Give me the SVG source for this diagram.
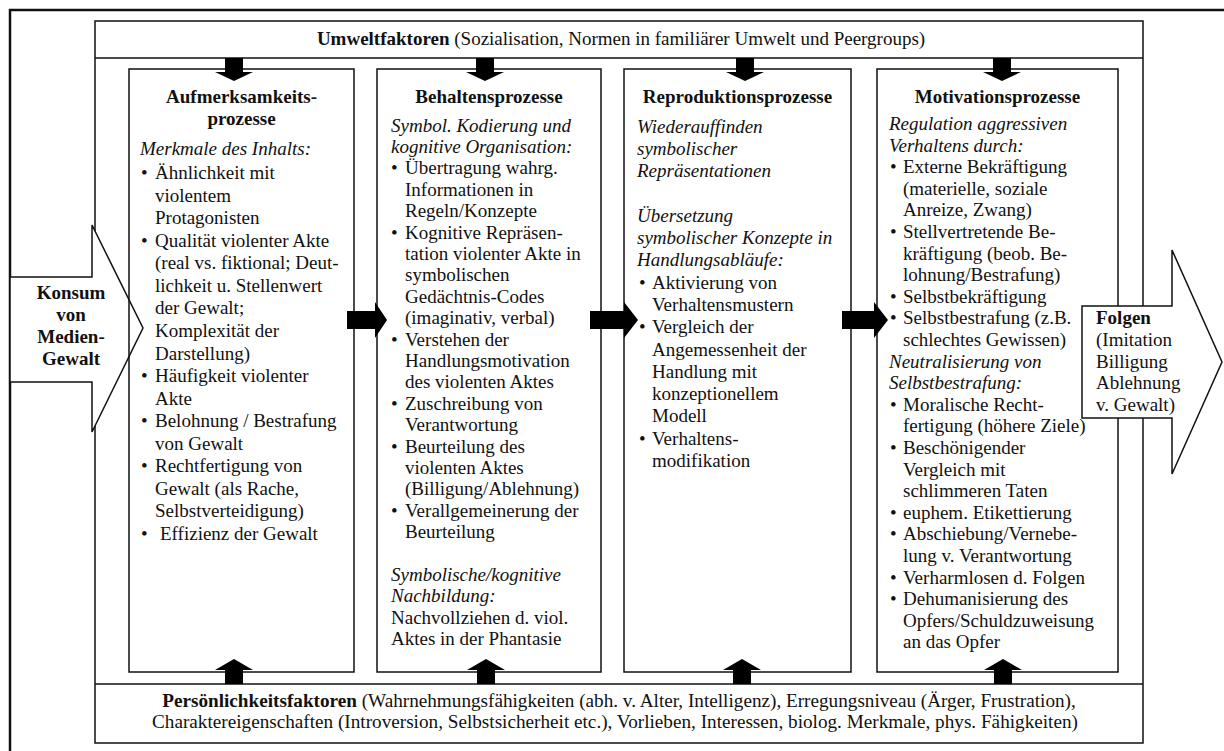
<svg xmlns="http://www.w3.org/2000/svg" width="1224" height="751" viewBox="0 0 1224 751">
<style>
.t{font-family:"Liberation Serif","Times New Roman",serif;font-size:19px;fill:#111}
.b{font-weight:bold}
.i{font-style:italic}
.c{text-anchor:middle}
.box{fill:none;stroke:#111;stroke-width:1.5}
.wbox{fill:#fff;stroke:#111;stroke-width:1.5}
.blk{fill:#000}
</style>
<rect x="0" y="0" width="1224" height="751" fill="#fff"/>
<g id="frame">
<rect x="10" y="10" width="1240" height="760" fill="none" stroke="#111" stroke-width="2.5"/>
</g>
<g id="container">
<rect class="box" x="95" y="21" width="1048" height="722"/>
<line x1="95" y1="58" x2="1143" y2="58" stroke="#111" stroke-width="1.5"/>
<line x1="95" y1="684" x2="1143" y2="684" stroke="#111" stroke-width="1.5"/>
</g>
<g id="umwelt">
<text class="t c" x="621" y="45"><tspan class="b">Umweltfaktoren</tspan> (Sozialisation, Normen in familiärer Umwelt und Peergroups)</text>
</g>
<g id="persoenlichkeit">
<text class="t c" x="619" y="707" style="font-size:19.2px"><tspan class="b">Persönlichkeitsfaktoren</tspan> (Wahrnehmungsfähigkeiten (abh. v. Alter, Intelligenz), Erregungsniveau (Ärger, Frustration),</text>
<text class="t c" x="615" y="728" style="font-size:19.2px">Charaktereigenschaften (Introversion, Selbstsicherheit etc.), Vorlieben, Interessen, biolog. Merkmale, phys. Fähigkeiten)</text>
</g>
<g id="konsum">
<polygon class="wbox" points="10,277 92,277 92,225 143,328 92,432 92,382 10,382"/>
<text class="t b c" x="71" y="299">Konsum</text>
<text class="t b c" x="71" y="321">von</text>
<text class="t b c" x="71" y="343">Medien-</text>
<text class="t b c" x="71" y="365">Gewalt</text>
</g>
<g id="aufmerksamkeit">
<rect class="box" x="129" y="69" width="225" height="603"/>
<text class="t b c" x="241.5" y="103">Aufmerksamkeits-</text>
<text class="t b c" x="241.5" y="124.5">prozesse</text>
<text class="t i" x="140" y="155">Merkmale des Inhalts:</text>
<text class="t" x="141" y="179">•</text><text class="t" x="155" y="179">Ähnlichkeit mit</text>
<text class="t" x="155" y="201.6">violentem</text>
<text class="t" x="155" y="224.1">Protagonisten</text>
<text class="t" x="141" y="246.7">•</text><text class="t" x="155" y="246.7">Qualität violenter Akte</text>
<text class="t" x="155" y="269.2">(real vs. fiktional; Deut-</text>
<text class="t" x="155" y="291.8">lichkeit u. Stellenwert</text>
<text class="t" x="155" y="314.4">der Gewalt;</text>
<text class="t" x="155" y="336.9">Komplexität der</text>
<text class="t" x="155" y="359.5">Darstellung)</text>
<text class="t" x="141" y="382">•</text><text class="t" x="155" y="382">Häufigkeit violenter</text>
<text class="t" x="155" y="404.6">Akte</text>
<text class="t" x="141" y="427.2">•</text><text class="t" x="155" y="427.2">Belohnung / Bestrafung</text>
<text class="t" x="155" y="449.7">von Gewalt</text>
<text class="t" x="141" y="472.3">•</text><text class="t" x="155" y="472.3">Rechtfertigung von</text>
<text class="t" x="155" y="494.8">Gewalt (als Rache,</text>
<text class="t" x="155" y="517.4">Selbstverteidigung)</text>
<text class="t" x="141" y="540">•</text><text class="t" x="160" y="540">Effizienz der Gewalt</text>
</g>
<g id="behalten">
<rect class="box" x="377" y="69" width="224" height="603"/>
<text class="t b c" x="489" y="103">Behaltensprozesse</text>
<text class="t i" x="391" y="131.5">Symbol. Kodierung und</text>
<text class="t i" x="391" y="152.9">kognitive Organisation:</text>
<text class="t" x="391" y="174.3">•</text><text class="t" x="405" y="174.3">Übertragung wahrg.</text>
<text class="t" x="405" y="195.7">Informationen in</text>
<text class="t" x="405" y="217.1">Regeln/Konzepte</text>
<text class="t" x="391" y="238.5">•</text><text class="t" x="405" y="238.5">Kognitive Repräsen-</text>
<text class="t" x="405" y="259.9">tation violenter Akte in</text>
<text class="t" x="405" y="281.3">symbolischen</text>
<text class="t" x="405" y="302.7">Gedächtnis-Codes</text>
<text class="t" x="405" y="324.1">(imaginativ, verbal)</text>
<text class="t" x="391" y="345.5">•</text><text class="t" x="405" y="345.5">Verstehen der</text>
<text class="t" x="405" y="366.9">Handlungsmotivation</text>
<text class="t" x="405" y="388.3">des violenten Aktes</text>
<text class="t" x="391" y="409.7">•</text><text class="t" x="405" y="409.7">Zuschreibung von</text>
<text class="t" x="405" y="431.1">Verantwortung</text>
<text class="t" x="391" y="452.5">•</text><text class="t" x="405" y="452.5">Beurteilung des</text>
<text class="t" x="405" y="473.9">violenten Aktes</text>
<text class="t" x="405" y="495.3">(Billigung/Ablehnung)</text>
<text class="t" x="391" y="516.7">•</text><text class="t" x="405" y="516.7">Verallgemeinerung der</text>
<text class="t" x="405" y="538.1">Beurteilung</text>
<text class="t i" x="391" y="580.9">Symbolische/kognitive</text>
<text class="t i" x="391" y="602.3">Nachbildung:</text>
<text class="t" x="391" y="623.7">Nachvollziehen d. viol.</text>
<text class="t" x="391" y="645.1">Aktes in der Phantasie</text>
</g>
<g id="reproduktion">
<rect class="box" x="624" y="69" width="227" height="603"/>
<text class="t b c" x="737.5" y="103">Reproduktionsprozesse</text>
<text class="t i" x="637" y="132.5">Wiederauffinden</text>
<text class="t i" x="637" y="154.8">symbolischer</text>
<text class="t i" x="637" y="177.1">Repräsentationen</text>
<text class="t i" x="637" y="221.7">Übersetzung</text>
<text class="t i" x="637" y="244">symbolischer Konzepte in</text>
<text class="t i" x="637" y="266.3">Handlungsabläufe:</text>
<text class="t" x="639" y="288.6">•</text><text class="t" x="652" y="288.6">Aktivierung von</text>
<text class="t" x="652" y="310.9">Verhaltensmustern</text>
<text class="t" x="639" y="333.2">•</text><text class="t" x="652" y="333.2">Vergleich der</text>
<text class="t" x="652" y="355.5">Angemessenheit der</text>
<text class="t" x="652" y="377.8">Handlung mit</text>
<text class="t" x="652" y="400.1">konzeptionellem</text>
<text class="t" x="652" y="422.4">Modell</text>
<text class="t" x="639" y="444.7">•</text><text class="t" x="652" y="444.7">Verhaltens-</text>
<text class="t" x="652" y="467">modifikation</text>
</g>
<g id="motivation">
<rect class="box" x="877" y="69" width="241" height="603"/>
<text class="t b c" x="997.5" y="103">Motivationsprozesse</text>
<text class="t i" x="889" y="130">Regulation aggressiven</text>
<text class="t i" x="889" y="151.6">Verhaltens durch:</text>
<text class="t" x="890" y="173.2">•</text><text class="t" x="903" y="173.2">Externe Bekräftigung</text>
<text class="t" x="903" y="194.8">(materielle, soziale</text>
<text class="t" x="903" y="216.4">Anreize, Zwang)</text>
<text class="t" x="890" y="238">•</text><text class="t" x="903" y="238">Stellvertretende Be-</text>
<text class="t" x="903" y="259.6">kräftigung (beob. Be-</text>
<text class="t" x="903" y="281.2">lohnung/Bestrafung)</text>
<text class="t" x="890" y="302.8">•</text><text class="t" x="903" y="302.8">Selbstbekräftigung</text>
<text class="t" x="890" y="324.4">•</text><text class="t" x="903" y="324.4">Selbstbestrafung (z.B.</text>
<text class="t" x="903" y="346">schlechtes Gewissen)</text>
<text class="t i" x="889" y="367.6">Neutralisierung von</text>
<text class="t i" x="889" y="389.2">Selbstbestrafung:</text>
<text class="t" x="890" y="410.8">•</text><text class="t" x="903" y="410.8">Moralische Recht-</text>
<text class="t" x="903" y="432.4">fertigung (höhere Ziele)</text>
<text class="t" x="890" y="454">•</text><text class="t" x="903" y="454">Beschönigender</text>
<text class="t" x="903" y="475.6">Vergleich mit</text>
<text class="t" x="903" y="497.2">schlimmeren Taten</text>
<text class="t" x="890" y="518.8">•</text><text class="t" x="903" y="518.8">euphem. Etikettierung</text>
<text class="t" x="890" y="540.4">•</text><text class="t" x="903" y="540.4">Abschiebung/Vernebe-</text>
<text class="t" x="903" y="562">lung v. Verantwortung</text>
<text class="t" x="890" y="583.6">•</text><text class="t" x="903" y="583.6">Verharmlosen d. Folgen</text>
<text class="t" x="890" y="605.2">•</text><text class="t" x="903" y="605.2">Dehumanisierung des</text>
<text class="t" x="903" y="626.8">Opfers/Schuldzuweisung</text>
<text class="t" x="903" y="648.4">an das Opfer</text>
</g>
<g id="folgen">
<polygon class="wbox" points="1082,306 1172,306 1172,250 1222,362 1172,474 1172,418 1082,418"/>
<text class="t b" x="1096" y="324.4">Folgen</text>
<text class="t" x="1096" y="346">(Imitation</text>
<text class="t" x="1096" y="367.6">Billigung</text>
<text class="t" x="1096" y="389.2">Ablehnung</text>
<text class="t" x="1096" y="410.8">v. Gewalt)</text>
</g>
<g id="connectors">
<polygon class="blk" points="225,58 243,58 243,72 253,72 234,81 215,72 225,72"/>
<polygon class="blk" points="476,58 494,58 494,72 504,72 485,81 466,72 476,72"/>
<polygon class="blk" points="736,58 754,58 754,72 764,72 745,81 726,72 736,72"/>
<polygon class="blk" points="993,58 1011,58 1011,72 1021,72 1002,81 983,72 993,72"/>
<polygon class="blk" points="225,684 243,684 243,670 253,670 234,659 215,670 225,670"/>
<polygon class="blk" points="477,684 495,684 495,670 505,670 486,659 467,670 477,670"/>
<polygon class="blk" points="733,684 751,684 751,670 761,670 742,659 723,670 733,670"/>
<polygon class="blk" points="994,684 1012,684 1012,670 1022,670 1003,659 984,670 994,670"/>
<polygon class="blk" points="347,311 375,311 375,302 387,320 375,338 375,329 347,329"/>
<polygon class="blk" points="590,311 624,311 624,302 638,320 624,338 624,329 590,329"/>
<polygon class="blk" points="842,311 874,311 874,302 888,320 874,338 874,329 842,329"/>
</g>
</svg>
